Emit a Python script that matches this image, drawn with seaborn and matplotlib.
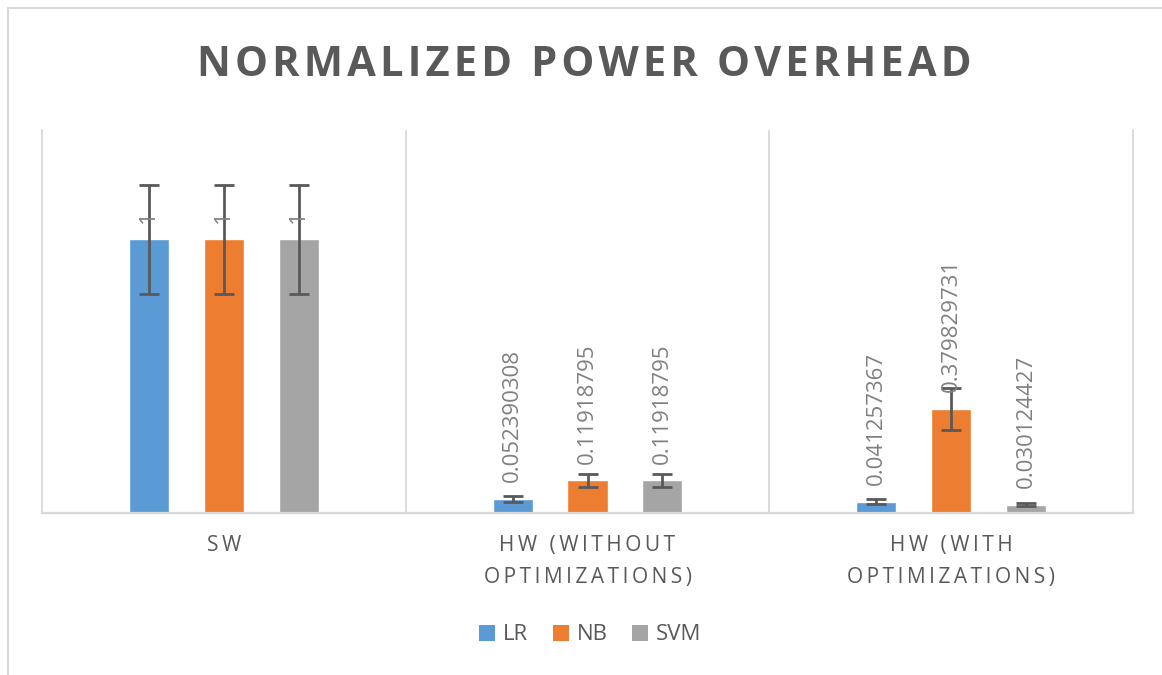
import matplotlib
matplotlib.use("Agg")
import matplotlib.pyplot as plt
from matplotlib.patches import Patch, Rectangle
import numpy as np
import pandas as pd
import seaborn as sns

# Chart data
categories = ["SW", "HW (WITHOUT\nOPTIMIZATIONS)", "HW (WITH\nOPTIMIZATIONS)"]
models = ["LR", "NB", "SVM"]
lr_values = [1, 0.052390308, 0.041257367]
nb_values = [1, 0.11918795, 0.379829731]
svm_values = [1, 0.11918795, 0.030124427]
error_fraction = 0.20  # percentage error bars (±20 %)

colors = {"LR": "#5B9BD5", "NB": "#ED7D31", "SVM": "#A5A5A5"}
text_grey = "#595959"
label_grey = "#808080"
line_grey = "#D9D9D9"

rows = []
for model, vals in zip(models, [lr_values, nb_values, svm_values]):
    for cat, v in zip(categories, vals):
        rows.append({"category": cat, "model": model, "value": v})
df = pd.DataFrame(rows)

sns.set_theme(style="white")
plt.rcParams["font.family"] = ["Open Sans", "DejaVu Sans"]

fig = plt.figure(figsize=(11.62, 6.75), dpi=100)
ax = fig.add_axes([42 / 1162, 1 - 513 / 675, (1133 - 42) / 1162, (513 - 130) / 675])

sns.barplot(
    data=df, x="category", y="value", hue="model",
    order=categories, hue_order=models, palette=colors,
    width=0.618, gap=0.466, saturation=1, errorbar=None,
    legend=False, ax=ax,
)

# Percentage error bars and rotated value labels for each series
for container, model in zip(ax.containers, models):
    sub = df[df["model"] == model].set_index("category").loc[categories]
    vals = sub["value"].to_numpy()
    xs = [p.get_x() + p.get_width() / 2 for p in container.patches]
    ax.errorbar(xs, vals, yerr=vals * error_fraction, fmt="none",
                ecolor=text_grey, elinewidth=2.0, capsize=7, capthick=2.0, zorder=3)
    ax.bar_label(container, labels=[f"{v:.10g}" for v in vals], rotation=90,
                 padding=12, color=label_grey, fontsize=16)

ax.set_ylim(0, 1.4)
ax.set_xlim(-0.5, 2.5)
ax.set_xlabel("")
ax.set_ylabel("")
ax.set_yticks([])

# Category separators and baseline
for xb in [0.5, 1.5]:
    ax.axvline(xb, color=line_grey, linewidth=1.3, zorder=0)
for side in ["left", "right"]:
    ax.spines[side].set_color(line_grey)
    ax.spines[side].set_linewidth(1.3)
ax.spines["top"].set_visible(False)
ax.spines["bottom"].set_color(line_grey)
ax.spines["bottom"].set_linewidth(1.6)


def letter_spaced(text, gap, word_gap):
    lines = []
    for line in text.split("\n"):
        lines.append(word_gap.join(gap.join(word) for word in line.split(" ")))
    return "\n".join(lines)


ax.set_xticks(range(len(categories)))
ax.set_xticklabels([letter_spaced(c, "\u2009", "\u2009 \u2009") for c in categories],
                   color=text_grey, fontsize=15, linespacing=1.68)
ax.tick_params(axis="x", length=0, pad=16)

fig.text(0.503, 1 - 65 / 675,
         letter_spaced("NORMALIZED POWER OVERHEAD", "\u200a", "\u200a \u200a"),
         ha="center", va="center", fontsize=30, fontweight="bold", color=text_grey)

handles = [Patch(facecolor=colors[m], edgecolor="none", label=m) for m in models]
fig.legend(handles=handles, loc="center", bbox_to_anchor=(0.508, 1 - 635 / 675),
           ncol=3, frameon=False, fontsize=16, handlelength=0.72, handleheight=0.72,
           handletextpad=0.35, columnspacing=1.1, labelcolor=text_grey)

# Chart frame (left and top edges visible)
fig.add_artist(Rectangle((7.5 / 1162, -0.05), 1.2, 1 - 8 / 675 + 0.05,
                         transform=fig.transFigure, fill=False,
                         edgecolor=line_grey, linewidth=1.5))

fig.savefig("out.png", dpi=100)
